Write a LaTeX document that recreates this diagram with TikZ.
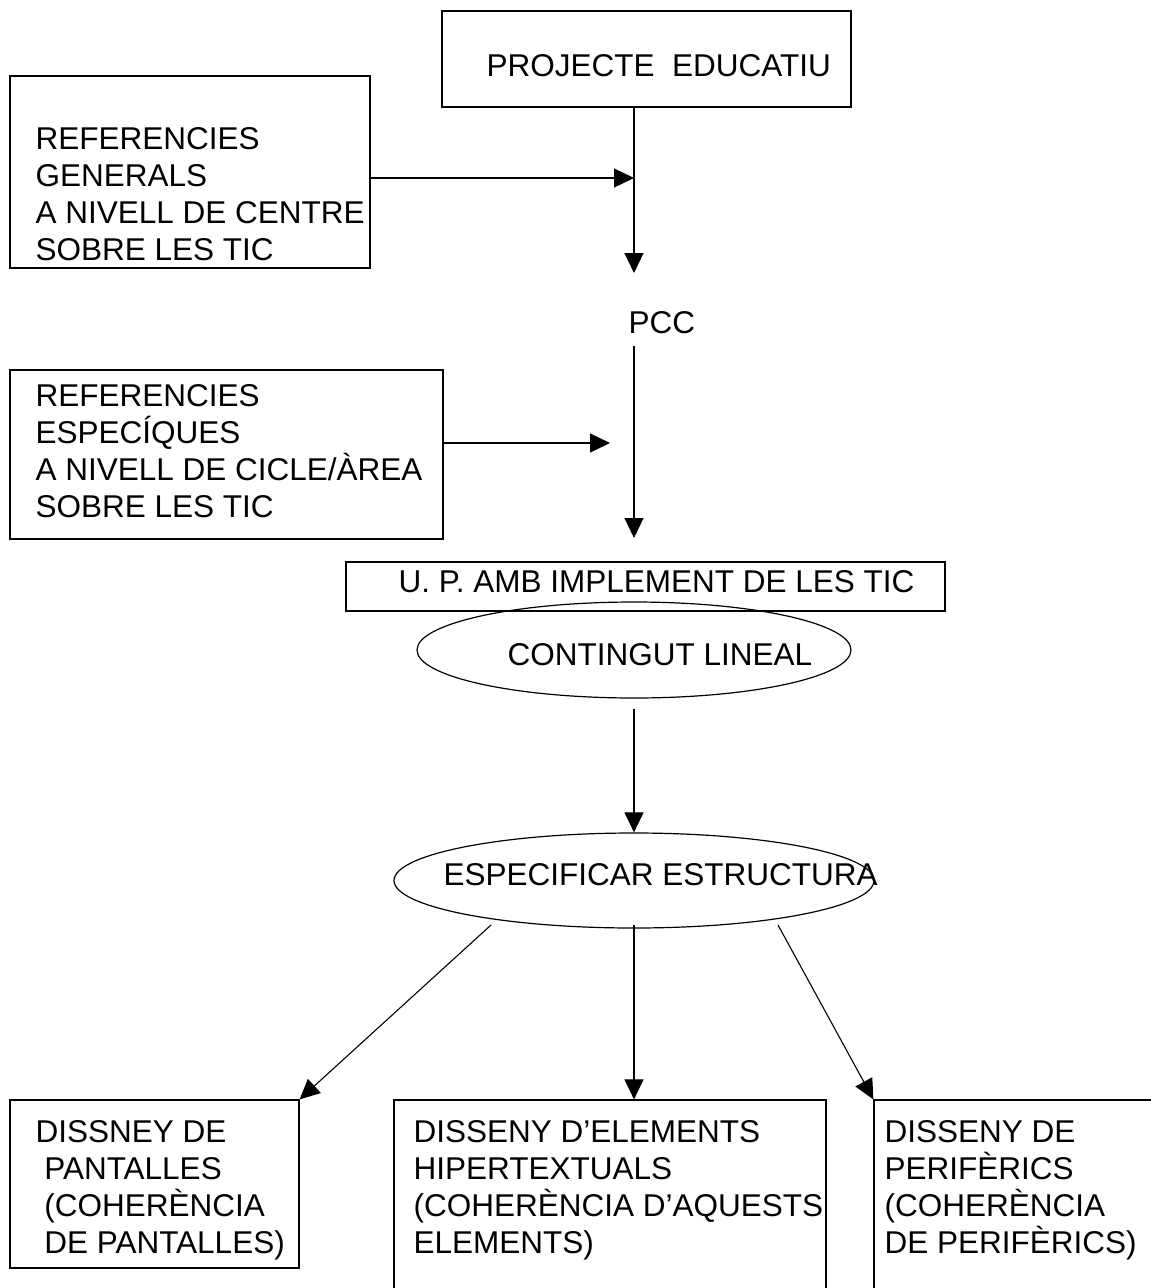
\documentclass[tikz,border=0pt]{standalone}
\usepackage{fontspec}
\setmainfont{Liberation Sans}
\usetikzlibrary{arrows.meta,shapes.geometric,calc}

\begin{document}
\begin{tikzpicture}[x=1pt,y=-1pt,line width=1.2pt,
  box/.style={draw,rectangle,inner sep=0pt},
  oval/.style={draw,ellipse,inner sep=0pt},
  % multi-line texts are placed by the baseline of their last line
  txt/.style={anchor=base west,inner sep=0pt,align=left,
    font=\fontsize{31.5}{36.7}\selectfont},
  link/.style={-{Triangle[length=20pt,width=19pt]},line width=1.1pt}]
\newcommand\lead{\hspace*{.278em}}

\useasboundingbox (0,0) rectangle (1151,1288);
\clip (0,0) rectangle (1151,1288);

% frames
\node[box,minimum width=409pt,minimum height=96pt]  (pe) at (646.5,59) {};
\node[box,minimum width=360pt,minimum height=192pt] (rg) at (190,172) {};
\node[box,minimum width=433pt,minimum height=169pt] (re) at (226.5,454.5) {};
\node[box,minimum width=599pt,minimum height=49pt]  (up) at (645.5,586.5) {};
\node[oval,minimum width=434pt,minimum height=96pt] (cl) at (634,650) {};
\node[oval,minimum width=480pt,minimum height=95pt] (ee) at (634,880.5) {};
\node[box,minimum width=289pt,minimum height=168pt] (dp) at (154.5,1184) {};
\node[box,minimum width=432pt,minimum height=230pt] (dh) at (610,1215) {};
\node[box,minimum width=306pt,minimum height=230pt] (df) at (1027,1215) {};

% texts
\node[txt] (tpe) at (486,76) {PROJECTE\ \ EDUCATIU};
\node[txt] (trg) at (35,260) {REFERENCIES\\GENERALS\\A NIVELL DE CENTRE\\SOBRE LES TIC};
\node[txt] (pcc) at (628,333) {PCC};
\node[txt] (tre) at (35,517) {REFERENCIES\\ESPECÍQUES\\A NIVELL DE CICLE/ÀREA\\SOBRE LES TIC};
\node[txt] (tup) at (398,592) {U. P. AMB IMPLEMENT DE LES TIC};
\node[txt] (tcl) at (507,665) {CONTINGUT LINEAL};
\node[txt] (tee) at (443,885) {ESPECIFICAR ESTRUCTURA};
\node[txt] (tdp) at (35,1253) {DISSNEY DE\\\lead PANTALLES\\\lead (COHERÈNCIA\\\lead DE PANTALLES)};
\node[txt] (tdh) at (413,1253) {DISSENY D’ELEMENTS\\HIPERTEXTUALS\\(COHERÈNCIA D’AQUESTS\\ELEMENTS)};
\node[txt] (tdf) at (884,1253) {DISSENY DE\\PERIFÈRICS\\(COHERÈNCIA\\DE PERIFÈRICS)};

% free ends of the connectors
\coordinate (spine) at (634,0);
\coordinate (c1) at (634,273);
\coordinate (j1) at (634,178);
\coordinate (p1) at (634,346);
\coordinate (p2) at (634,538);
\coordinate (j2) at (610,443);
\coordinate (s1) at (491,925);
\coordinate (s2) at (634,925);
\coordinate (s3) at (778,925);

% connectors
\draw[link] (pe.south -| spine) -- (c1);
\draw[link] (rg.east |- j1) -- (j1);
\draw[link] (p1) -- (p2);
\draw[link] (re.east |- j2) -- (j2);
\draw[link] ($(cl.south)+(0,10)$) -- (ee.north);
\draw[link] (s1) -- (dp.north east);
\draw[link] (s2) -- (s2 |- dh.north);
\draw[link] (s3) -- (df.north west);
\end{tikzpicture}
\end{document}
